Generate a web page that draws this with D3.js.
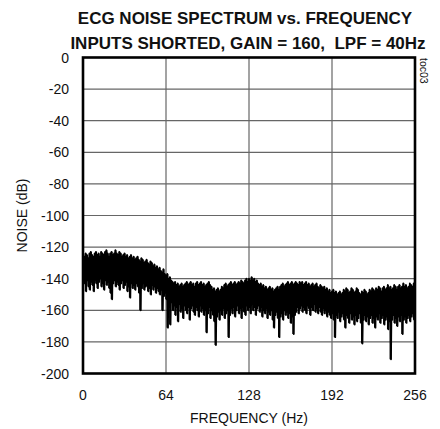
<!DOCTYPE html>
<html><head><meta charset="utf-8">
<script src="https://cdn.jsdelivr.net/npm/d3@7"></script>
<style>
body{margin:0;background:#fff;}
svg{display:block;font-family:"Liberation Sans",Arial,sans-serif;}
</style></head>
<body>
<svg id="c" width="440" height="429"></svg>
<script>
const titleLines = ["ECG NOISE SPECTRUM vs. FREQUENCY", "INPUTS SHORTED, GAIN = 160,  LPF = 40Hz"];
const xTicks = [0, 64, 128, 192, 256];
const yTicks = [0, -20, -40, -60, -80, -100, -120, -140, -160, -180, -200];
const xLabel = "FREQUENCY (Hz)";
const yLabel = "NOISE (dB)";
const tocLabel = "toc03";
// per-1Hz bin: upper (peak) and lower (trough) noise readings in dB
const peakDb = [
-128,-126,-124,-125,-127,-124,-123,-125,-126,-124,-123,-125,-124,-126,-123,-124,
-125,-123,-122,-124,-126,-124,-123,-125,-124,-122,-124,-125,-123,-124,-126,-125,
-124,-126,-125,-127,-126,-125,-127,-126,-128,-127,-126,-128,-129,-127,-128,-130,
-129,-128,-130,-131,-129,-130,-132,-131,-133,-132,-134,-133,-135,-136,-134,-137,
-138,-137,-140,-139,-141,-142,-143,-142,-144,-143,-145,-144,-143,-145,-144,-143,
-142,-144,-143,-142,-144,-143,-145,-143,-142,-144,-143,-142,-144,-143,-145,-144,
-143,-142,-144,-145,-147,-146,-148,-147,-146,-148,-147,-145,-146,-144,-143,-145,
-144,-143,-142,-144,-143,-142,-144,-143,-142,-143,-141,-142,-143,-141,-140,-142,
-140,-141,-139,-141,-140,-142,-141,-143,-144,-143,-145,-144,-146,-145,-147,-146,
-145,-147,-146,-148,-147,-146,-145,-147,-145,-144,-143,-145,-144,-143,-142,-144,
-143,-142,-144,-143,-142,-143,-144,-142,-143,-142,-144,-143,-142,-144,-143,-145,
-144,-143,-145,-144,-143,-145,-146,-144,-145,-146,-145,-147,-146,-148,-147,-149,
-148,-147,-149,-148,-150,-149,-148,-150,-149,-147,-148,-146,-147,-149,-148,-146,
-147,-149,-148,-146,-147,-149,-150,-148,-149,-147,-148,-150,-149,-147,-148,-146,
-147,-148,-146,-147,-145,-146,-148,-146,-145,-147,-146,-144,-146,-145,-147,-146,
-144,-145,-147,-145,-144,-146,-145,-143,-145,-144,-146,-145,-143,-144,-145,-143,
-144];
const troughDb = [
-140,-143,-148,-141,-145,-147,-142,-144,-148,-141,-143,-146,-142,-140,-145,-143,
-147,-141,-144,-142,-146,-149,-153,-143,-141,-145,-142,-144,-147,-143,-141,-146,
-144,-142,-148,-145,-152,-143,-146,-144,-147,-143,-145,-149,-160,-146,-143,-147,
-145,-144,-148,-146,-150,-144,-147,-145,-149,-146,-148,-150,-147,-160,-151,-149,
-153,-171,-158,-169,-155,-160,-157,-163,-158,-167,-156,-161,-159,-165,-157,-160,
-162,-158,-166,-159,-157,-161,-163,-158,-160,-164,-157,-161,-159,-163,-160,-174,
-162,-158,-165,-160,-163,-167,-182,-164,-161,-166,-160,-163,-159,-165,-162,-160,
-177,-163,-159,-162,-158,-164,-160,-157,-162,-159,-165,-158,-161,-163,-157,-160,
-158,-162,-156,-160,-158,-163,-159,-157,-161,-158,-164,-160,-162,-159,-165,-161,
-163,-160,-166,-171,-163,-161,-165,-177,-164,-162,-166,-160,-163,-161,-165,-162,
-168,-164,-175,-163,-161,-158,-162,-159,-157,-161,-158,-160,-162,-157,-159,-163,
-158,-160,-156,-161,-159,-162,-158,-161,-163,-159,-162,-160,-164,-161,-163,-165,
-162,-166,-177,-163,-165,-161,-167,-164,-162,-166,-171,-163,-165,-168,-162,-166,
-164,-169,-163,-167,-165,-162,-168,-181,-166,-163,-167,-164,-169,-165,-163,-168,
-165,-171,-164,-166,-162,-168,-165,-163,-169,-166,-164,-172,-167,-191,-166,-163,
-168,-165,-170,-164,-167,-163,-175,-166,-164,-168,-165,-163,-167,-164,-162,-166,
-163];

const svg = d3.select("#c");
const m = {l:83, t:57.5, w:332, h:316};
const x = d3.scaleLinear().domain([0,256]).range([m.l, m.l+m.w]);
const y = d3.scaleLinear().domain([0,-200]).range([m.t, m.t+m.h]);

// title
svg.selectAll("text.title").data(titleLines).join("text")
  .attr("class","title")
  .attr("x",(d,i)=> i===0?245:248)
  .attr("y",(d,i)=> i===0?23.5:48.5)
  .attr("text-anchor","middle")
  .style("white-space","pre")
  .style("font-size","17px").style("font-weight","bold").attr("fill","#111")
  .text(d=>d);

// grid
const g = svg.append("g");
g.selectAll("line.gx").data(xTicks.slice(1,-1)).join("line")
  .attr("x1",d=>x(d)).attr("x2",d=>x(d)).attr("y1",m.t).attr("y2",m.t+m.h)
  .attr("stroke","#666").attr("stroke-width",1.2);
g.selectAll("line.gy").data(yTicks.slice(1,-1)).join("line")
  .attr("y1",d=>y(d)).attr("y2",d=>y(d)).attr("x1",m.l).attr("x2",m.l+m.w)
  .attr("stroke","#666").attr("stroke-width",1.2);

// data
const bins = d3.range(peakDb.length);
const pts = [];
for (let i=0;i<peakDb.length;i++){
  pts.push([i, peakDb[i]]);
  pts.push([Math.min(i+0.5,256), troughDb[i]]);
}
svg.append("clipPath").attr("id","clip").append("rect")
  .attr("x",m.l).attr("y",m.t).attr("width",m.w).attr("height",m.h);
const dg = svg.append("g").attr("clip-path","url(#clip)");
dg.selectAll("rect.bin").data(bins).join("rect")
  .attr("x",i=>x(i)-0.8).attr("width",1.9)
  .attr("y",i=>y(peakDb[i])).attr("height",i=>y(troughDb[i])-y(peakDb[i]))
  .attr("fill","#000");
dg.append("path").datum(pts)
  .attr("d", d3.line().x(d=>x(d[0])).y(d=>y(d[1])))
  .attr("fill","none").attr("stroke","#000").attr("stroke-width",1.8)
  .attr("stroke-linejoin","round");

// frame
svg.append("rect").attr("x",m.l).attr("y",m.t).attr("width",m.w).attr("height",m.h)
  .attr("fill","none").attr("stroke","#000").attr("stroke-width",2.6);

// axes labels
svg.selectAll("text.yt").data(yTicks).join("text")
  .attr("x",69).attr("y",d=>y(d)).attr("dy","0.36em")
  .attr("text-anchor","end").style("font-size","14px").attr("fill","#111").text(d=>d);
svg.selectAll("text.xt").data(xTicks).join("text")
  .attr("x",d=>x(d)).attr("y",400)
  .attr("text-anchor","middle").style("font-size","14px").attr("fill","#111").text(d=>d);
svg.append("text").attr("x",x(128)).attr("y",422.5).attr("text-anchor","middle")
  .style("font-size","14px").attr("fill","#111").text(xLabel);
svg.append("text").attr("transform",`translate(27,${m.t+m.h/2}) rotate(-90)`)
  .attr("text-anchor","middle").style("font-size","14px").attr("fill","#111").text(yLabel);
svg.append("text").attr("transform",`translate(420,58) rotate(90)`)
  .style("font-size","10.5px").attr("fill","#111").text(tocLabel);
</script>
</body></html>
